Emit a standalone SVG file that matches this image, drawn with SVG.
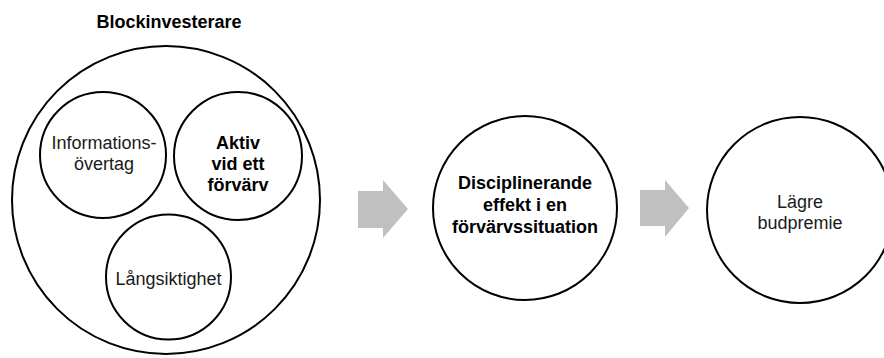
<svg xmlns="http://www.w3.org/2000/svg" width="884" height="358" viewBox="0 0 884 358">
<style>
.c{fill:#fff;stroke:#000;stroke-width:2}
.t{font-family:"Liberation Sans",Arial,sans-serif;font-size:18px;fill:#1a1a1a;text-anchor:middle}
.b{font-weight:bold;fill:#000}
.a{fill:#c0c0c0}
</style>
<rect width="884" height="358" fill="#fff"/>
<g id="blockinvesterare">
<text class="t b" x="169" y="28">Blockinvesterare</text>
<circle class="c" cx="166" cy="200" r="154"/>
</g>
<g id="informationsovertag">
<circle class="c" cx="103" cy="155" r="63"/>
<text class="t" x="104" y="149">Informations-</text>
<text class="t" x="104" y="170">övertag</text>
</g>
<g id="aktiv">
<circle class="c" cx="238" cy="156" r="64"/>
<text class="t b" x="238" y="149">Aktiv</text>
<text class="t b" x="238" y="170">vid ett</text>
<text class="t b" x="238" y="191">förvärv</text>
</g>
<g id="langsiktighet">
<circle class="c" cx="168.5" cy="277" r="62.5"/>
<text class="t" x="168.5" y="285">Långsiktighet</text>
</g>
<g id="disciplinerande">
<circle class="c" cx="525" cy="208" r="92"/>
<text class="t b" x="525" y="189">Disciplinerande</text>
<text class="t b" x="525" y="211">effekt i en</text>
<text class="t b" x="525" y="233">förvärvssituation</text>
</g>
<g id="lagre">
<circle class="c" cx="800" cy="210" r="93"/>
<text class="t" x="800" y="208">Lägre</text>
<text class="t" x="800" y="229">budpremie</text>
</g>
<g id="connectors">
<polygon class="a" points="358,191 383,191 383,180 408,209 383,238 383,228 358,228"/>
<polygon class="a" points="640,190 665,190 665,180 689,208 665,237 665,226 640,226"/>
</g>
</svg>
